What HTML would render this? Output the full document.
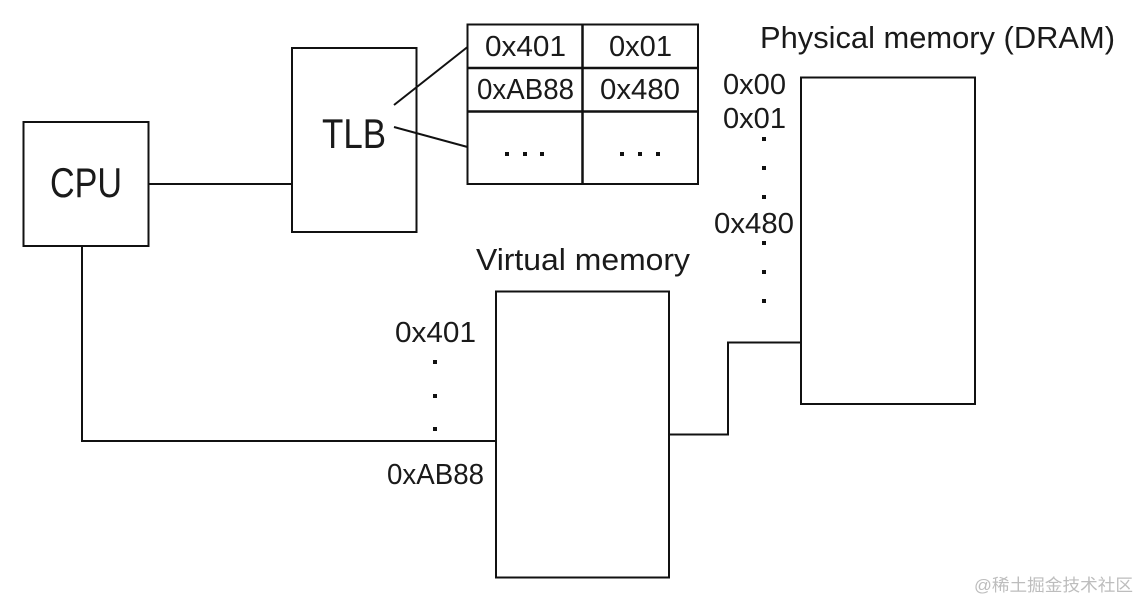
<!DOCTYPE html>
<html>
<head>
<meta charset="utf-8">
<style>
html,body{margin:0;padding:0;background:#fff;}
svg{display:block;}
text{font-family:"Liberation Sans",sans-serif;fill:#1a1a1a;}
.a{font-size:29px;}
.l{font-size:31px;}
.b{font-size:42px;}
.w{font-family:"Liberation Sans","Noto Sans CJK SC",sans-serif;font-size:17px;fill:#bdbdbd;}
</style>
</head>
<body>
<svg width="1139" height="602" viewBox="0 0 1139 602" xmlns="http://www.w3.org/2000/svg">
<g fill="none" stroke="#111" stroke-width="2">
<rect x="23.500" y="122" width="125" height="124"/>
<rect x="292" y="48" width="124.500" height="184"/>
<rect x="467.500" y="24.500" width="230.500" height="159.500"/>
<rect x="801" y="77.500" width="174" height="326.500"/>
<rect x="496" y="291.500" width="173" height="286"/>
<path d="M582.500 24.500V184M467.500 68H698M467.500 111.500H698" stroke-width="2.500"/>
<path d="M148.500 184H292"/>
<path d="M394 105L467.500 47M394 127L467.500 147"/>
<path d="M82 246V441H496"/>
<path d="M669 434.500H728V342.500H801"/>
</g>
<g fill="#111">
<rect x="505" y="152" width="4" height="4"/><rect x="523" y="152" width="4" height="4"/><rect x="540" y="152" width="4" height="4"/>
<rect x="620" y="152" width="4" height="4"/><rect x="638" y="152" width="4" height="4"/><rect x="656" y="152" width="4" height="4"/>
<rect x="762" y="137" width="4" height="4"/><rect x="762" y="166" width="4" height="4"/><rect x="762" y="195" width="4" height="4"/>
<rect x="762" y="241" width="4" height="4"/><rect x="762" y="270" width="4" height="4"/><rect x="762" y="299" width="4" height="4"/>
<rect x="433" y="360" width="4" height="4"/><rect x="433" y="394" width="4" height="4"/><rect x="433" y="427" width="4" height="4"/>
</g>
<text class="b" x="50" y="197" textLength="72" lengthAdjust="spacingAndGlyphs">CPU</text>
<text class="b" x="322" y="148" textLength="64" lengthAdjust="spacingAndGlyphs">TLB</text>
<text class="a" x="485" y="56" textLength="81" lengthAdjust="spacingAndGlyphs">0x401</text>
<text class="a" x="609" y="56" textLength="63" lengthAdjust="spacingAndGlyphs">0x01</text>
<text class="a" x="477" y="99" textLength="97" lengthAdjust="spacingAndGlyphs">0xAB88</text>
<text class="a" x="600" y="99" textLength="80" lengthAdjust="spacingAndGlyphs">0x480</text>
<text class="l" x="760" y="48" textLength="355" lengthAdjust="spacingAndGlyphs">Physical memory (DRAM)</text>
<text class="l" x="476" y="270" textLength="214" lengthAdjust="spacingAndGlyphs">Virtual memory</text>
<text class="a" x="723" y="94" textLength="63" lengthAdjust="spacingAndGlyphs">0x00</text>
<text class="a" x="723" y="128" textLength="63" lengthAdjust="spacingAndGlyphs">0x01</text>
<text class="a" x="714" y="233" textLength="80" lengthAdjust="spacingAndGlyphs">0x480</text>
<text class="a" x="395" y="342" textLength="81" lengthAdjust="spacingAndGlyphs">0x401</text>
<text class="a" x="387" y="484" textLength="97" lengthAdjust="spacingAndGlyphs">0xAB88</text>
<text class="w" x="974" y="591" textLength="159" lengthAdjust="spacingAndGlyphs">@稀土掘金技术社区</text>
</svg>
</body>
</html>
